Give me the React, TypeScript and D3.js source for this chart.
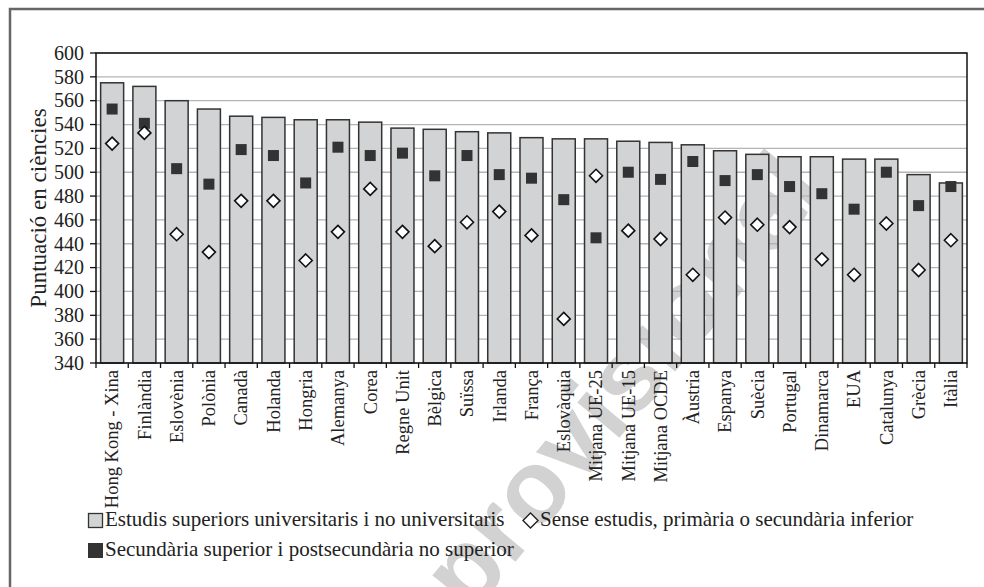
import React from 'react';
import * as d3 from 'd3';

// values
const categories = [
  'Hong Kong - Xina', 'Finlàndia', 'Eslovènia', 'Polònia', 'Canadà', 'Holanda', 'Hongria',
  'Alemanya', 'Corea', 'Regne Unit', 'Bèlgica', 'Suïssa', 'Irlanda', 'França', 'Eslovàquia',
  'Mitjana UE-25', 'Mitjana UE-15', 'Mitjana OCDE', 'Àustria', 'Espanya', 'Suècia',
  'Portugal', 'Dinamarca', 'EUA', 'Catalunya', 'Grècia', 'Itàlia',
];
const tertiary = [575, 572, 560, 553, 547, 546, 544, 544, 542, 537, 536, 534, 533, 529, 528, 528, 526, 525, 523, 518, 515, 513, 513, 511, 511, 498, 491];
const upperSecondary = [553, 541, 503, 490, 519, 514, 491, 521, 514, 516, 497, 514, 498, 495, 477, 445, 500, 494, 509, 493, 498, 488, 482, 469, 500, 472, 488];
const lowerSecondary = [524, 533, 448, 433, 476, 476, 426, 450, 486, 450, 438, 458, 467, 447, 377, 497, 451, 444, 414, 462, 456, 454, 427, 414, 457, 418, 443];
const yTicks = d3.range(340, 601, 20);

const legendItems = [
  'Estudis superiors universitaris i no universitaris',
  'Sense estudis, primària o secundària inferior',
  'Secundària superior i postsecundària no superior',
];

const W = 984;
const H = 587;
const plot = { left: 96, right: 967, top: 53, bottom: 363 };
const FONT = 'Liberation Serif, DejaVu Serif, serif';
const BAR_FILL = '#d1d3d4';
const DARK = '#333333';

const App: React.FC = () => {
  const x = d3.scaleBand<string>()
    .domain(categories)
    .range([plot.left, plot.right])
    .paddingInner(0.287)
    .paddingOuter(0.1435);
  const y = d3.scaleLinear().domain([340, 600]).range([plot.bottom, plot.top]);
  const bw = x.bandwidth();
  const step = x.step();
  const cx = (c: string) => (x(c) ?? 0) + bw / 2;

  const sq = 11;
  const dm = 6.5;
  const diamond = (px: number, py: number, r: number) =>
    `M${px},${py - r}L${px + r},${py}L${px},${py + r}L${px - r},${py}Z`;

  const txt = { fontFamily: FONT, fill: '#222' };

  return (
    <svg width={W} height={H} style={{ position: 'absolute', left: 0, top: 0, background: '#fff' }}>
      {/* watermark */}
      <text
        transform="translate(470,616) rotate(-50)"
        fontFamily="Liberation Sans, Arial, sans-serif"
        fontWeight="bold"
        fontSize={104}
        fill="#d2d2d2"
      >
        provisional
      </text>

      {/* outer frame (only top and left visible) */}
      <path d={`M10,${H}V9H${W}`} fill="none" stroke="#666" strokeWidth={2.5} />

      {/* gridlines */}
      {yTicks.map(t => (
        <line key={`g${t}`} x1={plot.left} x2={plot.right} y1={y(t)} y2={y(t)} stroke="#b4b4b4" strokeWidth={1.3} />
      ))}

      {/* bars */}
      {categories.map((c, i) => (
        <rect
          key={`b${c}`}
          x={x(c)}
          y={y(tertiary[i])}
          width={bw}
          height={plot.bottom - y(tertiary[i])}
          fill={BAR_FILL}
          stroke={DARK}
          strokeWidth={1.5}
        />
      ))}

      {/* plot frame */}
      <rect x={plot.left} y={plot.top} width={plot.right - plot.left} height={plot.bottom - plot.top} fill="none" stroke="#111" strokeWidth={1.5} />

      {/* markers */}
      {categories.map((c, i) => (
        <rect
          key={`s${c}`}
          x={cx(c) - sq / 2}
          y={y(upperSecondary[i]) - sq / 2}
          width={sq}
          height={sq}
          fill={DARK}
        />
      ))}
      {categories.map((c, i) => (
        <path key={`d${c}`} d={diamond(cx(c), y(lowerSecondary[i]), dm)} fill="#fff" stroke="#111" strokeWidth={1.6} />
      ))}

      {/* y axis */}
      {yTicks.map(t => (
        <g key={`y${t}`}>
          <line x1={plot.left - 6} x2={plot.left} y1={y(t)} y2={y(t)} stroke="#111" strokeWidth={1.3} />
          <text x={plot.left - 12} y={y(t)} dy="0.34em" textAnchor="end" fontSize={20} {...txt}>
            {t}
          </text>
        </g>
      ))}
      <text
        transform={`translate(46,${(plot.top + plot.bottom) / 2}) rotate(-90)`}
        textAnchor="middle"
        fontSize={23}
        {...txt}
      >
        Puntuació en ciències
      </text>

      {/* x axis ticks and labels */}
      {d3.range(categories.length + 1).map(i => {
        const tx = plot.left + i * step;
        return <line key={`xt${i}`} x1={tx} x2={tx} y1={plot.bottom} y2={plot.bottom + 5} stroke="#111" strokeWidth={1.3} />;
      })}
      {categories.map(c => (
        <text
          key={`xl${c}`}
          transform={`translate(${cx(c)},${plot.bottom + 7}) rotate(-90)`}
          dy="0.34em"
          textAnchor="end"
          fontSize={18.5}
          {...txt}
        >
          {c}
        </text>
      ))}

      {/* legend */}
      <rect x={88.5} y={513.5} width={14} height={14} fill={BAR_FILL} stroke={DARK} strokeWidth={1.3} />
      <text x={105} y={526} fontSize={21} {...txt}>{legendItems[0]}</text>
      <path d={diamond(530.5, 520.5, 7.5)} fill="#fff" stroke="#222" strokeWidth={1.4} />
      <text x={540} y={526} fontSize={21} {...txt}>{legendItems[1]}</text>
      <rect x={88} y={543} width={15} height={15} fill={DARK} />
      <text x={105} y={555.5} fontSize={21} {...txt}>{legendItems[2]}</text>
    </svg>
  );
};

export default App;
